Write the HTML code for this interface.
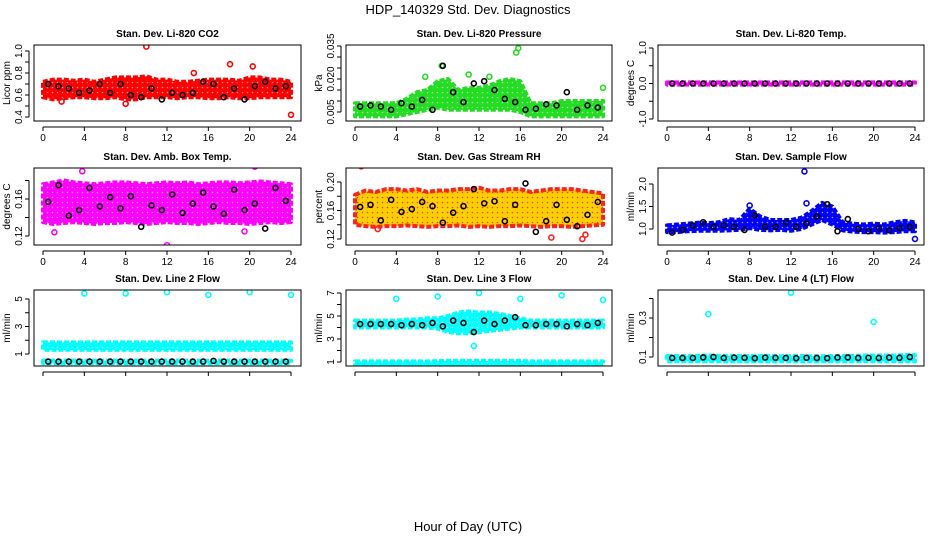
<!DOCTYPE html>
<html><head><meta charset="utf-8">
<style>
body{margin:0;background:#fff;width:936px;height:540px;overflow:hidden;font-family:"Liberation Sans",Arial,sans-serif;}
svg text{font-family:"Liberation Sans",Arial,sans-serif;}
</style></head>
<body>
<svg id="chart" width="936" height="540" viewBox="0 0 936 540" xmlns="http://www.w3.org/2000/svg">
<text x="468" y="14" text-anchor="middle" font-size="13">HDP_140329  Std. Dev. Diagnostics</text>
<text x="468" y="531" text-anchor="middle" font-size="13">Hour of Day (UTC)</text>
</svg>
<script>
// ---- data ----
const hours = [0,1,2,3,4,5,6,7,8,9,10,11,12,13,14,15,16,17,18,19,20,21,22,23,24];
const xTickLabels = [0,4,8,12,16,20,24];
const titles = ["Stan. Dev. Li-820 CO2","Stan. Dev. Li-820 Pressure","Stan. Dev. Li-820 Temp.","Stan. Dev. Amb. Box Temp.","Stan. Dev. Gas Stream RH","Stan. Dev. Sample Flow","Stan. Dev. Line 2 Flow","Stan. Dev. Line 3 Flow","Stan. Dev. Line 4 (LT) Flow"];
const yTitles = ["Licor ppm","kPa","degrees C","degrees C","percent","ml/min","ml/min","ml/min","ml/min"];
const colors = ["#ff0000","#22dd22","#ff00ff","#ff00ff","#ff2020","#0000ff","#00ffff","#00ffff","#00ffff"];
const fills = ["#ff0000","#22dd22","#ff00ff","#ff00ff","#ffd000","#0000ff","#00ffff","#00ffff","#00ffff"];
const yTicks = [[0.4,0.5,0.6,0.7,0.8,0.9,1.0],[0.005,0.01,0.015,0.02,0.025,0.03,0.035],[-1,-0.5,0,0.5,1],[0.12,0.14,0.16,0.18],[0.12,0.14,0.16,0.18,0.2],[1.0,1.5,2.0],[1,2,3,4,5],[1,2,3,4,5,6,7],[0.1,0.2,0.3,0.4]];
const yTickLabels = [["0.4","","0.6","","0.8","","1.0"],["0.005","","","0.020","","","0.035"],["-1.0","","0.0","","1.0"],["0.12","","0.16",""],["0.12","","0.16","","0.20"],["1.0","1.5","2.0"],["1","","3","","5"],["1","","3","","5","","7"],["0.1","","0.3",""]];
const yRefVals = [[0.4,1.0],[0.005,0.035],[-1,1],[0.12,0.16],[0.12,0.20],[1.0,2.0],[1,5],[1,7],[0.1,0.3]];
const bandLow = [
 [[0.58,0.56,0.57,0.58,0.58,0.57,0.57,0.58,0.56,0.56,0.58,0.58,0.58,0.57,0.58,0.58,0.57,0.57,0.58,0.57,0.57,0.58,0.58,0.58,0.58]],
 [[0.003,0.003,0.003,0.003,0.003,0.004,0.005,0.006,0.007,0.006,0.006,0.006,0.006,0.006,0.006,0.006,0.005,0.003,0.003,0.003,0.003,0.003,0.003,0.003,0.003]],
 [[-0.03,-0.03,-0.03,-0.03,-0.03,-0.03,-0.03,-0.03,-0.03,-0.03,-0.03,-0.03,-0.03,-0.03,-0.03,-0.03,-0.03,-0.03,-0.03,-0.03,-0.03,-0.03,-0.03,-0.03,-0.03]],
 [[0.135,0.133,0.134,0.135,0.134,0.133,0.134,0.134,0.135,0.134,0.133,0.134,0.135,0.134,0.134,0.133,0.134,0.135,0.134,0.134,0.133,0.134,0.135,0.134,0.135]],
 [[0.14,0.138,0.137,0.138,0.138,0.139,0.138,0.137,0.138,0.138,0.139,0.137,0.138,0.137,0.138,0.138,0.139,0.138,0.137,0.138,0.138,0.137,0.138,0.139,0.14]],
 [[0.93,0.93,0.95,0.96,0.96,0.96,0.97,0.98,1.02,0.98,0.97,0.98,0.96,1.0,1.1,1.2,1.1,0.97,0.94,0.93,0.93,0.92,0.93,0.95,0.95]],
 [[1.3,1.3,1.3,1.3,1.3,1.3,1.3,1.3,1.3,1.3,1.3,1.3,1.3,1.3,1.3,1.3,1.3,1.3,1.3,1.3,1.3,1.3,1.3,1.3,1.3],[0.33,0.33,0.33,0.33,0.33,0.33,0.33,0.33,0.33,0.33,0.33,0.33,0.33,0.33,0.33,0.33,0.33,0.33,0.33,0.33,0.33,0.33,0.33,0.33,0.33]],
 [[4.0,4.0,4.0,4.0,4.0,4.0,4.0,4.0,3.9,3.6,3.5,3.5,3.6,3.7,3.8,3.9,4.0,4.0,4.0,4.0,4.0,4.0,4.0,4.0,4.0],[0.7,0.7,0.7,0.7,0.7,0.7,0.7,0.7,0.7,0.7,0.7,0.7,0.7,0.7,0.7,0.7,0.7,0.7,0.7,0.7,0.7,0.7,0.7,0.7,0.7]],
 [[0.078,0.078,0.078,0.078,0.078,0.078,0.078,0.078,0.078,0.078,0.078,0.078,0.078,0.078,0.078,0.078,0.078,0.078,0.078,0.078,0.078,0.078,0.078,0.078,0.078]]
];
const bandHigh = [
 [[0.72,0.74,0.74,0.73,0.74,0.72,0.74,0.76,0.76,0.76,0.77,0.74,0.74,0.72,0.72,0.73,0.74,0.74,0.74,0.73,0.76,0.76,0.74,0.74,0.72]],
 [[0.009,0.009,0.009,0.009,0.009,0.011,0.014,0.015,0.019,0.020,0.015,0.016,0.016,0.017,0.019,0.020,0.019,0.009,0.009,0.009,0.010,0.010,0.010,0.010,0.010]],
 [[0.03,0.03,0.03,0.03,0.03,0.03,0.03,0.03,0.03,0.03,0.03,0.03,0.03,0.03,0.03,0.03,0.03,0.03,0.03,0.03,0.03,0.03,0.03,0.03,0.03]],
 [[0.176,0.178,0.18,0.178,0.177,0.176,0.177,0.178,0.178,0.177,0.176,0.177,0.178,0.177,0.178,0.176,0.177,0.178,0.178,0.177,0.178,0.179,0.178,0.177,0.176]],
 [[0.182,0.188,0.186,0.19,0.19,0.188,0.19,0.186,0.188,0.188,0.19,0.19,0.192,0.188,0.188,0.19,0.19,0.186,0.188,0.19,0.19,0.19,0.188,0.186,0.184]],
 [[1.08,1.1,1.12,1.14,1.13,1.15,1.22,1.2,1.45,1.28,1.2,1.2,1.2,1.25,1.4,1.58,1.5,1.15,1.12,1.1,1.12,1.1,1.15,1.18,1.15]],
 [[1.85,1.85,1.85,1.85,1.85,1.85,1.85,1.85,1.85,1.85,1.85,1.85,1.85,1.85,1.85,1.85,1.85,1.85,1.85,1.85,1.85,1.85,1.85,1.85,1.85],[0.52,0.52,0.52,0.52,0.52,0.52,0.52,0.52,0.52,0.52,0.52,0.52,0.52,0.52,0.52,0.52,0.52,0.52,0.52,0.52,0.52,0.52,0.52,0.52,0.52]],
 [[4.6,4.6,4.6,4.6,4.6,4.7,4.7,4.8,4.8,5.0,5.3,5.4,5.3,5.3,5.2,5.0,4.8,4.6,4.6,4.6,4.6,4.6,4.6,4.6,4.6],[1.05,1.05,1.05,1.05,1.05,1.05,1.05,1.05,1.08,1.1,1.1,1.1,1.1,1.1,1.1,1.1,1.1,1.05,1.05,1.05,1.05,1.05,1.05,1.05,1.05]],
 [[0.105,0.105,0.105,0.106,0.108,0.105,0.106,0.105,0.105,0.106,0.106,0.104,0.105,0.105,0.104,0.104,0.105,0.106,0.106,0.107,0.108,0.108,0.108,0.11,0.11]]
];
const blackX = [0.5,1.5,2.5,3.5,4.5,5.5,6.5,7.5,8.5,9.5,10.5,11.5,12.5,13.5,14.5,15.5,16.5,17.5,18.5,19.5,20.5,21.5,22.5,23.5];
const blackY = [
 [0.70,0.68,0.66,0.62,0.64,0.70,0.62,0.70,0.60,0.58,0.66,0.56,0.62,0.60,0.62,0.72,0.70,0.58,0.66,0.56,0.68,0.72,0.66,0.68],
 [0.0075,0.008,0.0075,0.006,0.009,0.0075,0.0105,0.006,0.026,0.014,0.0095,0.018,0.019,0.015,0.011,0.0095,0.006,0.0065,0.0085,0.008,0.014,0.006,0.008,0.007],
 [0,0,0,0,0,0,0,0,0,0,0,0,0,0,0,0,0,0,0,0,0,0,0,0],
 [0.157,0.175,0.142,0.148,0.172,0.152,0.162,0.15,0.163,0.13,0.153,0.148,0.165,0.145,0.155,0.167,0.152,0.144,0.17,0.148,0.155,0.128,0.172,0.158],
 [0.165,0.168,0.146,0.175,0.158,0.162,0.172,0.166,0.143,0.157,0.166,0.19,0.17,0.173,0.145,0.168,0.198,0.13,0.145,0.168,0.147,0.138,0.154,0.172],
 [0.92,0.98,1.08,1.15,1.05,1.08,1.05,0.98,1.3,1.05,1.05,1.15,1.05,1.12,1.28,1.55,0.95,1.22,1.0,0.95,1.02,0.97,1.02,1.05],
 [0.45,0.45,0.45,0.45,0.45,0.45,0.45,0.45,0.45,0.45,0.45,0.45,0.45,0.45,0.45,0.45,0.5,0.45,0.45,0.45,0.45,0.45,0.45,0.45],
 [4.3,4.3,4.3,4.3,4.2,4.3,4.2,4.4,4.1,4.6,4.4,3.6,4.6,4.3,4.6,4.9,4.2,4.2,4.3,4.3,4.1,4.3,4.2,4.4],
 [0.095,0.095,0.095,0.098,0.1,0.095,0.097,0.096,0.094,0.097,0.096,0.095,0.094,0.096,0.095,0.094,0.097,0.098,0.095,0.096,0.095,0.097,0.096,0.1]
];
const outX = [[10,18.1,20.3,24,8,1.8,14.6],[15.8,15.6,8.4,24,6.8,11,13],[],[12,20.5,3.8,19.5,1.1],[0.6,22,22.3,19,2.2],[13.3,24,13.5,8],[4,8,12,16,20,24],[4,8,12,16,20,24,11.5],[4,12,20]];
const outY = [[1.04,0.88,0.86,0.42,0.52,0.54,0.80],[0.034,0.032,0.026,0.016,0.021,0.022,0.021],[],[0.11,0.195,0.19,0.125,0.124],[0.222,0.12,0.126,0.122,0.134],[2.28,0.78,1.57,1.52],[5.4,5.4,5.5,5.3,5.5,5.3],[6.5,6.7,7.0,6.5,6.8,6.4,2.4],[0.32,0.43,0.28]];

// ---- layout ----
const colL=[34,346,658], colR=[301,612,924], colX0=[43,355,667], colX24=[291,603,915];
const rowT=[45,168,290], rowB=[121,245,366];
const yRefPix=[[117,51],[112,46],[119,48],[236,199],[239,182],[229,184],[354,299],[362,293],[357,318]];
const NS="http://www.w3.org/2000/svg";
const svg=document.getElementById('chart');
function mk(tag,attrs,parent){const e=document.createElementNS(NS,tag);for(const k in attrs)e.setAttribute(k,attrs[k]);(parent||svg).appendChild(e);return e;}
const defs=mk('defs',{});

for(let p=0;p<9;p++){
  const c=p%3,r=Math.floor(p/3);
  // speckle pattern for the dense cloud
  const pat=mk('pattern',{id:'pat'+p,patternUnits:'userSpaceOnUse',width:5,height:5},defs);
  mk('rect',{x:0,y:0,width:5,height:5,fill:fills[p]},pat);
  mk('circle',{cx:2.5,cy:2.5,r:0.8,fill:p===4?'#ff3000':'#ffffff','fill-opacity':p===4?0.9:0.6},pat);
  const g=mk('g',{});
  
  
  const xs=h=>colX0[c]+(colX24[c]-colX0[c])*h/24;
  const [v0,v1]=yRefVals[p],[p0,p1]=yRefPix[p];
  const ys=v=>p0+(v-v0)*(p1-p0)/(v1-v0);
  const cp=mk('clipPath',{id:'cp'+p},g);
  mk('rect',{x:colL[c],y:rowT[r],width:colR[c]-colL[c],height:rowB[r]-rowT[r]},cp);
  const plot=mk('g',{'clip-path':'url(#cp'+p+')'},g);
  for(let b=0;b<bandLow[p].length;b++){
    let pts=[];
    hours.forEach((h,i)=>pts.push(xs(h)+','+ys(bandHigh[p][b][i])));
    for(let i=hours.length-1;i>=0;i--)pts.push(xs(hours[i])+','+ys(bandLow[p][b][i]));
    const band=mk('polygon',{points:pts.join(' '),fill:'url(#pat'+p+')',stroke:colors[p],'stroke-width':4,'stroke-linejoin':'round','stroke-dasharray':'5 2'},plot);
    
    
  }
  outX[p].forEach((x,i)=>{
    const o=mk('circle',{cx:xs(x),cy:ys(outY[p][i]),r:2.5,fill:'none',stroke:colors[p],'stroke-width':1.6},plot);
    
    
  });
  blackX.forEach((x,i)=>{
    const b=mk('circle',{cx:xs(x),cy:ys(blackY[p][i]),r:2.5,fill:'none',stroke:'#000','stroke-width':1.6},plot);
    
    
  });
  const box=mk('rect',{x:colL[c],y:rowT[r],width:colR[c]-colL[c],height:rowB[r]-rowT[r],fill:'none',stroke:'#000','stroke-width':1},g);
  
  
  const t=mk('text',{x:(colL[c]+colR[c])/2,y:rowT[r]-8,'text-anchor':'middle','font-size':10,'font-weight':'bold'},g);
  t.textContent=titles[p];
  
  
  const yb=rowB[r];
  mk('line',{x1:xs(0),x2:xs(24),y1:yb+6,y2:yb+6,stroke:'#000'},g);
  xTickLabels.forEach(h=>{
    mk('line',{x1:xs(h),x2:xs(h),y1:yb+6,y2:yb+10,stroke:'#000'},g);
    if(r<2){const tl=mk('text',{x:xs(h),y:yb+20,'text-anchor':'middle','font-size':10},g);tl.textContent=h;
      
      }
  });
  const yt=yTicks[p];
  const ax=colL[c]-5;
  mk('line',{x1:ax,x2:ax,y1:ys(yt[0]),y2:ys(yt[yt.length-1]),stroke:'#000'},g);
  yt.forEach((v,i)=>{
    mk('line',{x1:ax-4,x2:ax,y1:ys(v),y2:ys(v),stroke:'#000'},g);
    if(yTickLabels[p][i]){
      const yl=mk('text',{x:ax-7,y:ys(v),'text-anchor':'middle','font-size':10,transform:'rotate(-90 '+(ax-7)+' '+ys(v)+')'},g);
      yl.textContent=yTickLabels[p][i];
      
      
    }
  });
  const cy=(rowT[r]+rowB[r])/2, tx=colL[c]-24;
  const yt2=mk('text',{x:tx,y:cy,'text-anchor':'middle','font-size':10,transform:'rotate(-90 '+tx+' '+cy+')'},g);
  yt2.textContent=yTitles[p];
  
  
}
</script>
</body></html>
